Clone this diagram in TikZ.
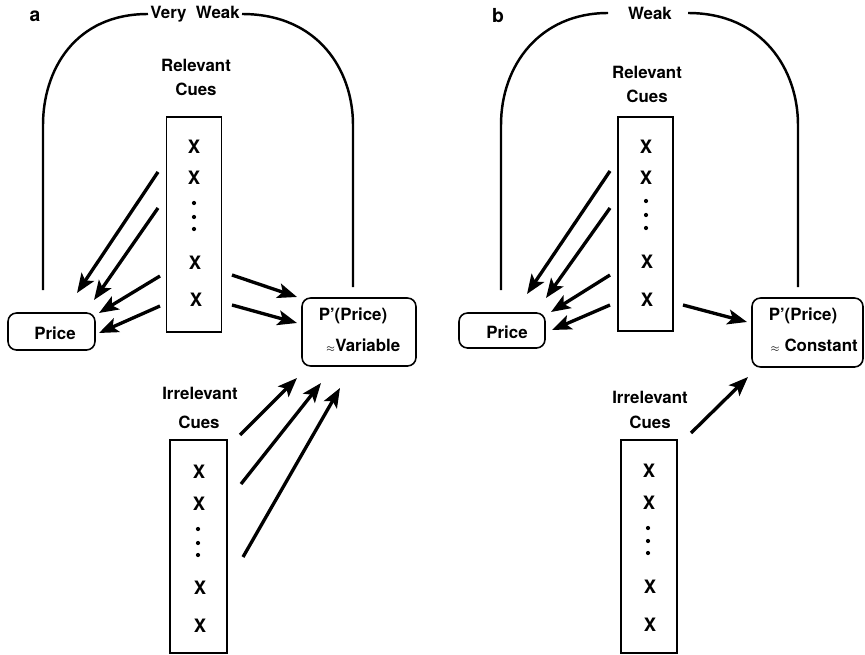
\documentclass[tikz,border=0pt]{standalone}
\usepackage{fontspec}
\setmainfont{TeX Gyre Heros}
\usetikzlibrary{arrows.meta}
\begin{document}
\begin{tikzpicture}[x=0.02cm,y=-0.02cm,
  every node/.style={font=\fontsize{9.6}{11}\selectfont\bfseries, inner sep=0pt},
  cuebox/.style={draw, line width=0.9pt, minimum width=1.1cm},
  roundbox/.style={draw, line width=0.9pt, rounded corners=0.17cm},
  arr/.style={line width=1.9pt, -{Stealth[length=11pt,width=8.5pt,inset=2.5pt]}},
  arc/.style={line width=1.4pt},
  xmark/.style={font=\fontsize{10.5}{11}\selectfont\bfseries},
  lab/.style={font=\fontsize{11}{12}\selectfont\bfseries},
  dotm/.style={circle, fill, minimum size=2.4pt}]
\useasboundingbox (0,0) rectangle (865,655);

% ---------------- panel a ----------------
\node[lab] (la) at (35,16) {a};
\node (weakA) at (195,14) {Very\ \ Weak};
\node (relA1) at (196,65) {Relevant};
\node (relA2) at (196,89) {Cues};
\node[cuebox, minimum height=4.3cm] (relA) at (194,224.5) {};
\node[xmark] (ra1) at (194,147) {X};
\node[xmark] (ra2) at (194,178) {X};
\node[dotm] (rad1) at (194,203) {};
\node[dotm] (rad2) at (194,217) {};
\node[dotm] (rad3) at (194,229) {};
\node[xmark] (ra3) at (195,263) {X};
\node[xmark] (ra4) at (196,300) {X};

\node[roundbox, minimum width=1.74cm, minimum height=0.74cm] (priceA) at (51.5,331.5) {};
\node (priceAt) at (55,333) {Price};
\node[roundbox, minimum width=2.28cm, minimum height=1.36cm] (ppA) at (359,332) {};
\node (ppA1) at (353,316) {P'(Price)};
\node (ppA2) at (363,345) {{\mdseries\tiny$\approx$}Variable};

\node (irrA1) at (200,393) {Irrelevant};
\node (irrA2) at (199,422) {Cues};
\node[cuebox, minimum width=1.14cm, minimum height=4.26cm] (irrA) at (198.5,546.5) {};
\node[xmark] (ia1) at (199,472) {X};
\node[xmark] (ia2) at (199,504) {X};
\node[dotm] (iad1) at (198,529) {};
\node[dotm] (iad2) at (198,543) {};
\node[dotm] (iad3) at (198,555) {};
\node[xmark] (ia3) at (200,588) {X};
\node[xmark] (ia4) at (200,626) {X};

% arc a
\coordinate (aL0) at (43,290);
\coordinate (aL1) at (43,125);
\coordinate (aLt) at (148,14);
\coordinate (aRt) at (242,14);
\coordinate (aR1) at (353,125);
\coordinate (aR0) at (353,287);
\draw[arc] (aL0) -- (aL1) .. controls (43,70) and (75,14) .. (aLt);
\draw[arc] (aRt) .. controls (318,14) and (353,70) .. (aR1) -- (aR0);

% arrows a
\coordinate (sa1) at (158,172); \coordinate (ea1) at (77,293);
\coordinate (sa2) at (158,208); \coordinate (ea2) at (94,300);
\coordinate (sa3) at (160,276); \coordinate (ea3) at (99,313);
\coordinate (sa4) at (160,306); \coordinate (ea4) at (99,333);
\draw[arr] (sa1) -- (ea1);
\draw[arr] (sa2) -- (ea2);
\draw[arr] (sa3) -- (ea3);
\draw[arr] (sa4) -- (ea4);
\coordinate (sa5) at (232,275); \coordinate (ea5) at (297,297);
\coordinate (sa6) at (232,305); \coordinate (ea6) at (297,323);
\draw[arr] (sa5) -- (ea5);
\draw[arr] (sa6) -- (ea6);
\coordinate (sa7) at (240,435); \coordinate (ea7) at (297,378);
\coordinate (sa8) at (241,484); \coordinate (ea8) at (321,383);
\coordinate (sa9) at (243,557); \coordinate (ea9) at (340,388);
\draw[arr] (sa7) -- (ea7);
\draw[arr] (sa8) -- (ea8);
\draw[arr] (sa9) -- (ea9);

% ---------------- panel b ----------------
\node[lab] (lb) at (498,16) {b};
\node (weakB) at (650,13) {Weak};
\node (relB1) at (647,72) {Relevant};
\node (relB2) at (647,96) {Cues};
\node[cuebox, minimum height=4.28cm] (relB) at (645.5,224) {};
\node[xmark] (rb1) at (646,147) {X};
\node[xmark] (rb2) at (646,178) {X};
\node[dotm] (rbd1) at (646,201) {};
\node[dotm] (rbd2) at (646,215) {};
\node[dotm] (rbd3) at (646,228) {};
\node[xmark] (rb3) at (647,262) {X};
\node[xmark] (rb4) at (647,300) {X};

\node[roundbox, minimum width=1.72cm, minimum height=0.70cm] (priceB) at (502,330.5) {};
\node (priceBt) at (507,332) {Price};
\node[roundbox, minimum width=2.22cm, minimum height=1.38cm] (ppB) at (807.5,332.5) {};
\node (ppB1) at (803,316) {P'(Price)};
\node (ppB2) at (814,345) {{\mdseries\tiny$\approx$}\ Constant};

\node (irrB1) at (650,397) {Irrelevant};
\node (irrB2) at (650,422) {Cues};
\node[cuebox, minimum width=1.12cm, minimum height=4.26cm] (irrB) at (649,546.5) {};
\node[xmark] (ib1) at (649,471) {X};
\node[xmark] (ib2) at (649,503) {X};
\node[dotm] (ibd1) at (648,528) {};
\node[dotm] (ibd2) at (648,541) {};
\node[dotm] (ibd3) at (648,553) {};
\node[xmark] (ib3) at (650,587) {X};
\node[xmark] (ib4) at (650,625) {X};

% arc b
\coordinate (bL0) at (501,290);
\coordinate (bL1) at (501,125);
\coordinate (bLt) at (608,13);
\coordinate (bRt) at (688,13);
\coordinate (bR1) at (798,125);
\coordinate (bR0) at (798,287);
\draw[arc] (bL0) -- (bL1) .. controls (501,65) and (540,13) .. (bLt);
\draw[arc] (bRt) .. controls (763,13) and (798,70) .. (bR1) -- (bR0);

% arrows b
\coordinate (sb1) at (610,171); \coordinate (eb1) at (527,294);
\coordinate (sb2) at (610,208); \coordinate (eb2) at (546,298);
\coordinate (sb3) at (610,275); \coordinate (eb3) at (551,312);
\coordinate (sb4) at (610,305); \coordinate (eb4) at (552,330);
\draw[arr] (sb1) -- (eb1);
\draw[arr] (sb2) -- (eb2);
\draw[arr] (sb3) -- (eb3);
\draw[arr] (sb4) -- (eb4);
\coordinate (sb5) at (683,305); \coordinate (eb5) at (747,322);
\draw[arr] (sb5) -- (eb5);
\coordinate (sb6) at (691,433); \coordinate (eb6) at (748,377);
\draw[arr] (sb6) -- (eb6);
\end{tikzpicture}
\end{document}
